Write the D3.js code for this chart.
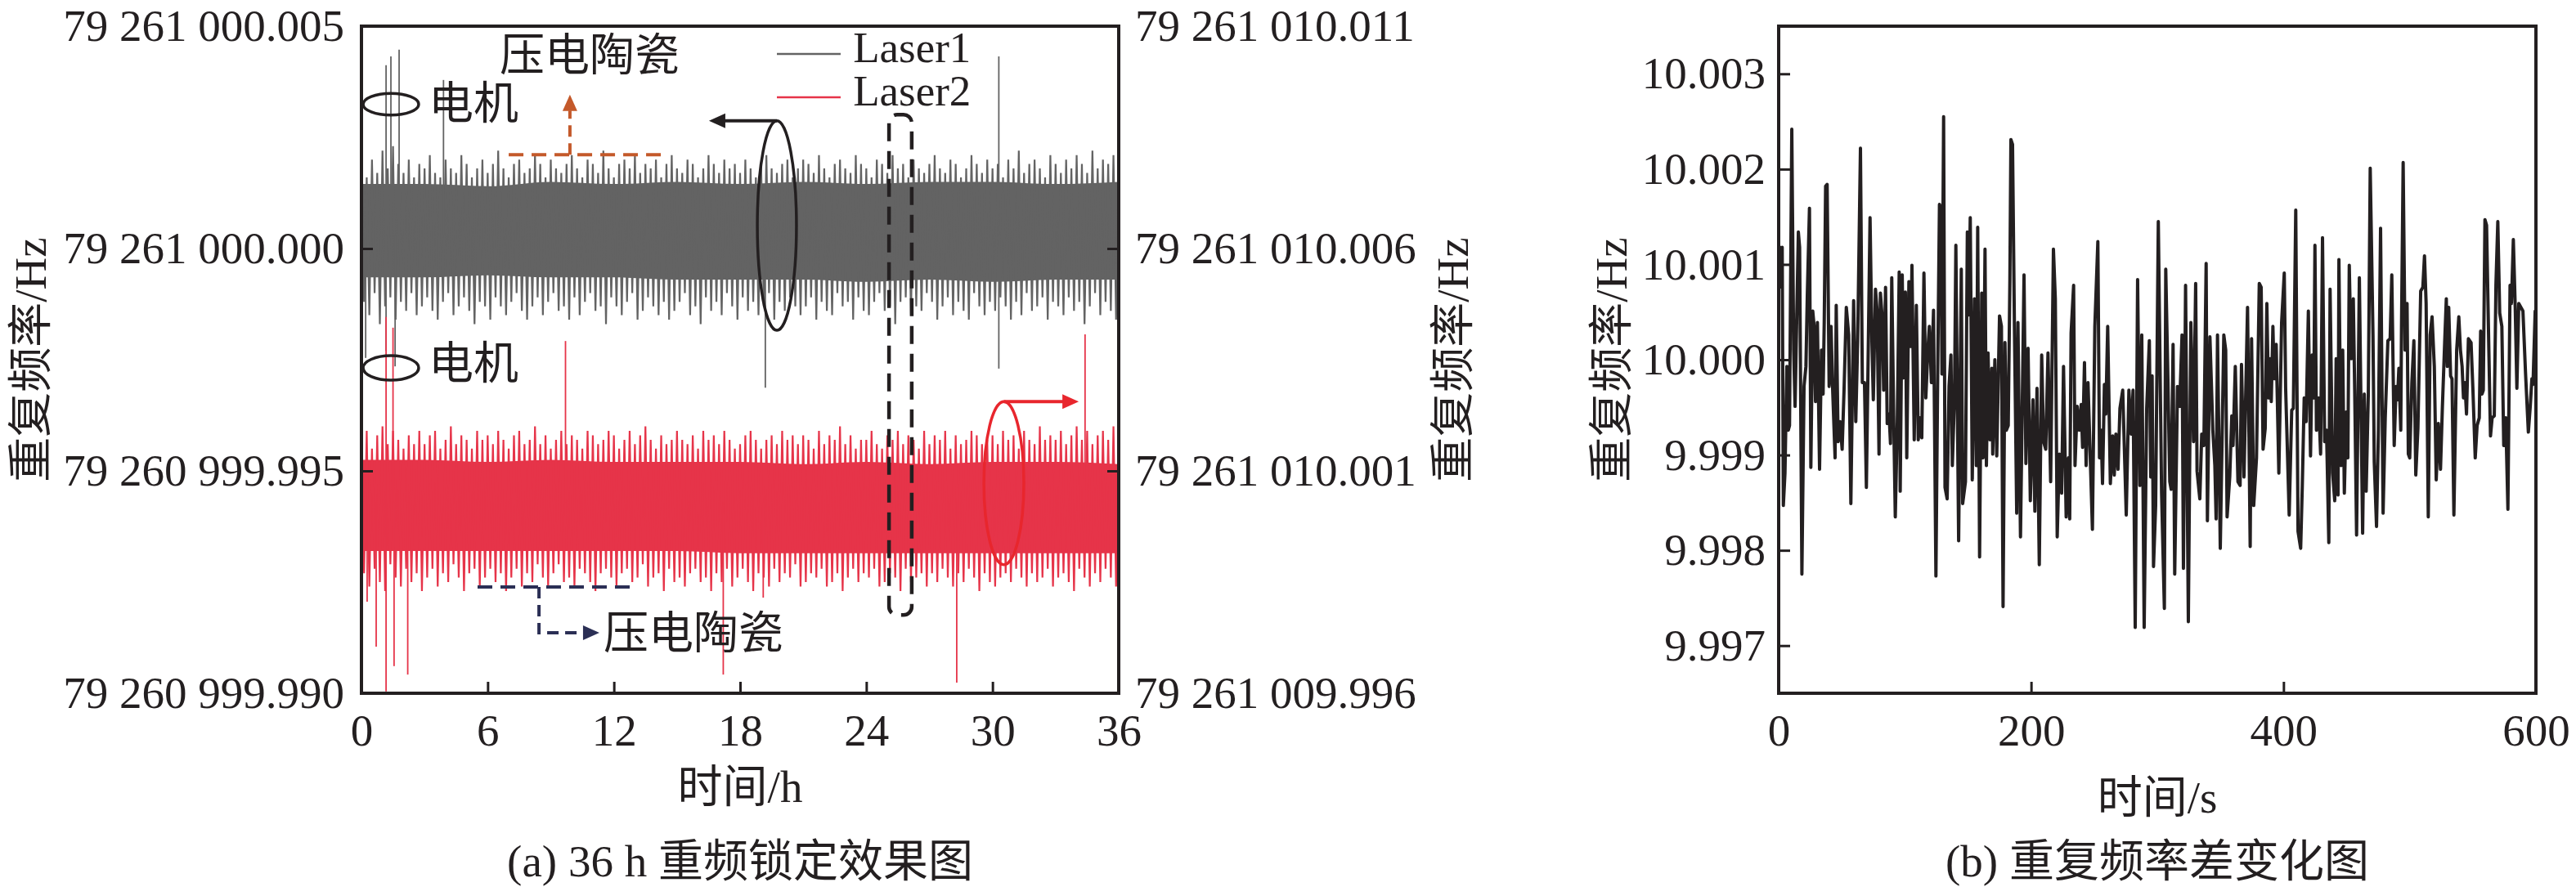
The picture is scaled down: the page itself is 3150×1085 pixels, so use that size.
<!DOCTYPE html>
<html>
<head>
<meta charset="utf-8">
<script src="https://cdn.jsdelivr.net/npm/d3@7"></script>
<style>
  body { margin: 0; background: #fff; }
</style>
</head>
<body>
<svg id="svg" width="3150" height="1085"></svg>
<script>
// ---------- panel (a): 36 h lock, values in mHz ----------
// Laser1 is read against the left axis (offset from 79 261 000.000 Hz),
// Laser2 against the right axis (offset from 79 261 010.000 Hz)
const hourTicks = [0, 6, 12, 18, 24, 30, 36]
const leftTickVals = [-10, -5, 0, 5]
const leftTickLabels = ['79 260 999.990', '79 260 999.995', '79 261 000.000', '79 261 000.005']
const rightTickVals = [-4, 1, 6, 11]
const rightTickLabels = ['79 261 009.996', '79 261 010.001', '79 261 010.006', '79 261 010.011']

// dense part of each trace, every 3 h
const coreHours = [0, 3, 6, 9, 12, 15, 18, 21, 24, 27, 30, 33, 36]
const l1CoreHi = [1.45, 1.45, 1.4, 1.5, 1.45, 1.5, 1.45, 1.5, 1.45, 1.5, 1.5, 1.45, 1.5]
const l1CoreLo = [-0.65, -0.65, -0.6, -0.65, -0.65, -0.7, -0.7, -0.7, -0.75, -0.7, -0.75, -0.7, -0.7]
const l2CoreHi = [1.25, 1.25, 1.2, 1.25, 1.2, 1.2, 1.2, 1.15, 1.2, 1.15, 1.2, 1.2, 1.15]
const l2CoreLo = [-0.8, -0.8, -0.8, -0.8, -0.8, -0.8, -0.85, -0.85, -0.85, -0.85, -0.85, -0.85, -0.85]

// outer excursions every 0.25 h (upper tip, then lower tip)
const bandStep = 0.25
const l1Hi = [
  1.9, 1.6, 2.0, 1.7, 2.2, 1.8, 2.3, 1.9, 1.7, 2.0, 1.6, 1.9,
  1.8, 2.1, 1.7, 1.6, 2.0, 1.8, 1.7, 2.1, 1.9, 1.6, 1.8, 2.0,
  1.7, 1.9, 2.2, 1.8, 1.6, 1.9, 2.0, 1.7, 1.8, 2.1, 1.9, 1.6,
  2.0, 1.8, 1.7, 1.9, 2.1, 1.8, 1.6, 2.0, 1.9, 1.7, 2.2, 1.8,
  1.6, 1.9, 2.0, 1.8, 2.1, 1.7, 1.9, 1.8, 2.0, 1.6, 1.9, 2.1,
  1.8, 1.7, 2.0, 1.9, 1.6, 1.8, 2.1, 1.9, 1.7, 2.0, 1.8, 1.9,
  1.7, 2.0, 1.8, 1.6, 1.9, 2.1, 1.8, 1.7, 1.9, 2.0, 1.6, 1.8,
  2.0, 1.9, 1.7, 2.1, 1.8, 1.6, 1.9, 2.0, 1.8, 1.7, 2.1, 1.9,
  1.8, 1.6, 2.0, 1.9, 1.7, 2.1, 1.8, 1.9, 1.6, 2.0, 1.8, 1.7,
  1.9, 2.1, 1.8, 1.7, 2.0, 1.9, 1.6, 1.8, 2.1, 1.9, 1.7, 2.0,
  1.8, 1.9, 1.6, 2.0, 1.8, 2.2, 1.7, 1.9, 2.0, 1.8, 1.6, 2.1,
  1.9, 1.7, 2.0, 1.8, 2.1, 1.9, 1.7, 2.2, 1.8, 2.0, 1.9, 2.1,
  1.9]
const l1Lo = [
  -1.2, -1.5, -1.0, -1.7, -1.3, -1.1, -1.6, -1.2, -1.4, -1.0, -1.5, -1.3,
  -1.1, -1.4, -1.6, -1.2, -1.0, -1.5, -1.3, -1.1, -1.4, -1.7, -1.2, -1.3,
  -1.6, -1.1, -1.3, -1.5, -1.2, -1.0, -1.4, -1.6, -1.3, -1.1, -1.5, -1.2,
  -1.0, -1.4, -1.3, -1.6, -1.1, -1.5, -1.2, -1.0, -1.4, -1.3, -1.7, -1.1,
  -1.3, -1.5, -1.2, -1.0, -1.6, -1.4, -1.1, -1.3, -1.5, -1.2, -1.6, -1.4,
  -1.2, -1.0, -1.5, -1.3, -1.7, -1.1, -1.4, -1.2, -1.5, -1.0, -1.3, -1.6,
  -1.1, -1.4, -1.2, -1.5, -1.3, -1.0, -1.6, -1.2, -1.4, -1.1, -1.3, -1.5,
  -1.3, -1.1, -1.6, -1.2, -1.4, -1.5, -1.0, -1.3, -1.2, -1.6, -1.1, -1.4,
  -1.5, -1.2, -1.0, -1.4, -1.3, -1.7, -1.2, -1.1, -1.5, -1.3, -1.4, -1.0,
  -1.2, -1.6, -1.3, -1.1, -1.5, -1.2, -1.4, -1.6, -1.0, -1.3, -1.5, -1.2,
  -1.4, -1.1, -1.3, -1.6, -1.2, -1.5, -1.0, -1.4, -1.3, -1.1, -1.6, -1.2,
  -1.3, -1.5, -1.1, -1.4, -1.2, -1.7, -1.3, -1.0, -1.5, -1.2, -1.4, -1.6,
  -1.3]
const l2Hi = [
  1.7, 1.9, 1.5, 1.8, 2.0, 1.6, 1.9, 1.7, 1.5, 1.8, 1.6, 1.9,
  1.6, 1.8, 1.9, 1.5, 1.7, 2.0, 1.6, 1.8, 1.7, 1.5, 1.9, 1.7,
  1.8, 1.6, 1.9, 1.7, 1.5, 1.8, 1.9, 1.6, 1.7, 2.0, 1.6, 1.8,
  1.5, 1.7, 1.9, 1.6, 1.8, 1.7, 1.5, 1.9, 1.8, 1.6, 1.7, 1.9,
  1.8, 1.5, 1.7, 1.9, 1.6, 1.8, 2.0, 1.7, 1.5, 1.8, 1.6, 1.7,
  1.9, 1.7, 1.6, 1.8, 1.5, 1.9, 1.7, 1.8, 1.6, 1.9, 1.7, 1.5,
  1.6, 1.8, 1.9, 1.7, 1.5, 1.7, 1.8, 1.6, 1.9, 1.7, 1.8, 1.6,
  1.8, 1.7, 1.5, 1.9, 1.6, 1.8, 1.7, 2.0, 1.6, 1.8, 1.5, 1.7,
  1.7, 1.9, 1.6, 1.5, 1.8, 1.7, 1.9, 1.6, 1.8, 1.7, 1.5, 1.9,
  1.6, 1.8, 1.7, 1.9, 1.5, 1.8, 1.6, 1.7, 1.9, 1.8, 1.6, 1.7,
  1.8, 1.6, 1.9, 1.7, 1.8, 1.5, 1.9, 1.7, 1.6, 2.0, 1.7, 1.8,
  1.7, 1.9, 1.6, 1.8, 2.0, 1.7, 1.9, 1.6, 1.8, 1.9, 1.7, 2.0,
  1.8]
const l2Lo = [
  -1.3, -1.6, -1.2, -1.5, -1.7, -1.1, -1.4, -1.6, -1.2, -1.5, -1.3, -1.7,
  -1.4, -1.2, -1.6, -1.3, -1.5, -1.1, -1.4, -1.7, -1.3, -1.2, -1.6, -1.4,
  -1.2, -1.5, -1.3, -1.7, -1.4, -1.2, -1.6, -1.3, -1.5, -1.1, -1.4, -1.6,
  -1.3, -1.1, -1.5, -1.4, -1.6, -1.2, -1.3, -1.5, -1.7, -1.3, -1.2, -1.4,
  -1.6, -1.3, -1.2, -1.5, -1.4, -1.1, -1.6, -1.4, -1.3, -1.7, -1.2, -1.5,
  -1.4, -1.6, -1.3, -1.2, -1.5, -1.4, -1.7, -1.3, -1.5, -1.2, -1.6, -1.4,
  -1.2, -1.5, -1.7, -1.3, -1.4, -1.6, -1.2, -1.5, -1.3, -1.4, -1.1, -1.6,
  -1.5, -1.3, -1.4, -1.2, -1.6, -1.5, -1.3, -1.7, -1.4, -1.2, -1.5, -1.3,
  -1.4, -1.2, -1.6, -1.5, -1.3, -1.4, -1.7, -1.2, -1.5, -1.4, -1.3, -1.6,
  -1.3, -1.5, -1.2, -1.4, -1.6, -1.3, -1.5, -1.2, -1.4, -1.7, -1.3, -1.5,
  -1.6, -1.4, -1.3, -1.5, -1.2, -1.4, -1.6, -1.3, -1.5, -1.4, -1.2, -1.6,
  -1.4, -1.3, -1.5, -1.7, -1.2, -1.4, -1.6, -1.3, -1.5, -1.2, -1.4, -1.6,
  -1.4]

// single large jumps [hour, mHz]
const l1Spikes = [[0.2, -2.46], [1.17, 4.12], [1.17, -2.3], [1.4, 4.32], [1.6, -2.65],
  [1.79, 4.47], [3.9, 3.79], [19.2, -3.13], [30.3, 4.32], [30.3, -2.7]]
const l2Spikes = [[0.27, -1.94], [0.7, -2.95], [1.17, 4.46], [1.17, -3.96], [1.5, 4.22],
  [1.55, -3.39], [2.2, -3.58], [9.7, 3.92], [17.2, -3.58], [19.1, -1.85], [28.3, -3.76], [34.4, 4.07]]

// ---------- panel (b): repetition-rate difference, [s, Hz] ----------
const secTicks = [0, 200, 400, 600]
const diffTicks = [9.997, 9.998, 9.999, 10.000, 10.001, 10.002, 10.003]
const diffSeries = [
  [0, 10.00080], [1.1, 10.00118], [2.2, 10.00076], [2.8, 10.00118], [3.7, 9.99847], [5.0, 9.99881],
  [6.5, 9.99993], [7.6, 9.99926], [8.6, 9.99931], [10.4, 10.00242], [11.9, 10.00010], [13.0, 9.99951],
  [15.6, 10.00134], [16.6, 10.00118], [18.4, 9.99775], [20.1, 9.99972], [21.6, 9.99993], [22.7, 10.00068],
  [24.4, 10.00159], [25.5, 9.99887], [27.0, 10.00051], [28.1, 10.00035], [29.2, 9.99956], [30.7, 10.00039],
  [32.4, 9.99885], [33.9, 10.00010], [35.2, 9.99964], [36.1, 10.00039], [37.2, 10.00182], [38.4, 10.00184],
  [40.0, 9.99972], [41.5, 10.00035], [42.8, 9.99968], [44.7, 9.99897], [45.6, 10.00057], [47.1, 9.99914],
  [48.6, 9.99935], [50.3, 9.99906], [51.8, 9.99968], [53.6, 10.00055], [55.5, 10.00026], [57.2, 9.99849],
  [59.4, 10.00062], [61.1, 9.99935], [62.6, 10.00020], [64.8, 10.00222], [66.3, 9.99976], [68.0, 9.99976],
  [69.5, 9.99866], [72.4, 10.00149], [73.9, 10.00018], [75.0, 9.99958], [76.7, 10.00074], [78.0, 10.00051],
  [79.5, 9.99901], [80.6, 10.00070], [82.1, 10.00043], [83.2, 9.99968], [84.7, 10.00076], [86.0, 9.99933],
  [87.5, 9.99943], [88.6, 9.99912], [89.6, 10.00086], [91.2, 9.99935], [92.4, 9.99835], [94.0, 9.99935],
  [95.5, 10.00092], [96.3, 9.99862], [97.9, 10.00089], [98.9, 9.99981], [100.4, 10.00071], [101.5, 9.99897],
  [103.2, 10.00082], [104.8, 10.00014], [105.6, 10.00099], [107.4, 9.99916], [109.1, 10.00057], [110.6, 9.99916],
  [111.9, 9.99939], [113.4, 9.99918], [115.1, 10.00091], [116.6, 9.99960], [118.2, 10.00010], [119.4, 10.00035],
  [121.0, 9.99976], [122.7, 10.00052], [124.6, 9.99773], [126.0, 9.99985], [127.4, 10.00163], [128.5, 10.00159],
  [129.4, 9.99985], [130.7, 10.00255], [131.8, 9.99866], [133.5, 9.99854], [135.0, 9.99972], [136.5, 10.00005],
  [137.6, 9.99889], [139.3, 9.99960], [140.4, 10.00120], [142.6, 9.99810], [144.7, 10.00095], [145.8, 9.99849],
  [148.0, 9.99872], [149.5, 10.00134], [150.6, 10.00047], [151.8, 10.00149], [153.4, 9.99874], [155.1, 10.00064],
  [156.6, 9.99889], [157.7, 10.00139], [159.2, 9.99793], [160.9, 10.00070], [162.0, 9.99897], [163.5, 10.00116],
  [164.6, 9.99889], [165.9, 10.00007], [167.4, 9.99916], [168.9, 9.99991], [169.6, 9.99901], [171.3, 10.00000],
  [172.8, 9.99899], [175.0, 10.00046], [176.5, 10.00035], [177.8, 9.99741], [179.3, 10.00018], [180.4, 9.99926],
  [181.9, 9.99931], [183.2, 10.00084], [184.0, 10.00231], [185.3, 10.00226], [186.8, 10.00035], [188.6, 9.99839],
  [189.6, 10.00039], [191.6, 9.99814], [194.4, 10.00089], [195.9, 9.99891], [197.6, 10.00012], [199.4, 9.99852],
  [201.5, 9.99958], [203.0, 9.99841], [204.7, 9.99970], [206.5, 9.99785], [208.4, 10.00005], [209.9, 9.99914],
  [211.6, 9.99906], [213.4, 10.00007], [215.5, 9.99872], [217.7, 10.00116], [219.2, 10.00064], [220.7, 9.99814],
  [222.4, 9.99901], [224.2, 9.99860], [225.7, 9.99993], [227.8, 9.99835], [229.6, 9.99897], [230.6, 9.99833],
  [231.7, 10.00028], [233.7, 10.00078], [234.8, 9.99889], [236.5, 9.99951], [238.2, 9.99926], [239.7, 9.99953],
  [240.8, 9.99908], [242.3, 9.99997], [243.6, 9.99889], [245.1, 9.99976], [248.6, 9.99822], [250.5, 10.00035],
  [252.9, 10.00124], [254.2, 9.99897], [255.5, 9.99926], [256.6, 9.99870], [258.1, 9.99974], [259.2, 9.99943],
  [260.7, 10.00035], [262.8, 9.99870], [264.6, 9.99920], [265.9, 9.99879], [267.2, 9.99922], [268.9, 9.99885],
  [270.4, 9.99949], [272.6, 9.99968], [275.4, 9.99837], [277.5, 9.99968], [279.3, 9.99922], [280.8, 9.99968],
  [282.5, 9.99719], [284.4, 10.00084], [286.2, 9.99868], [287.7, 10.00026], [289.6, 9.99719], [291.6, 9.99949],
  [293.7, 10.00020], [294.8, 9.99877], [295.9, 9.99983], [297.0, 9.99783], [298.7, 9.99847], [300.8, 10.00145],
  [303.4, 9.99860], [305.6, 9.99739], [306.7, 10.00095], [308.4, 9.99980], [309.9, 9.99872], [311.0, 9.99864],
  [312.5, 10.00016], [313.8, 9.99775], [316.0, 9.99972], [317.7, 9.99951], [319.6, 10.00026], [320.7, 9.99781],
  [322.4, 10.00078], [324.6, 9.99725], [326.6, 10.00039], [328.7, 9.99914], [330.4, 10.00080], [331.5, 9.99883],
  [333.7, 9.99854], [335.2, 9.99922], [336.9, 9.99910], [338.7, 10.00101], [339.7, 9.99831], [341.7, 10.00024],
  [344.0, 9.99926], [345.6, 9.99889], [346.6, 9.99833], [347.7, 10.00026], [349.9, 9.99802], [352.7, 10.00026],
  [354.2, 10.00010], [355.3, 9.99835], [357.4, 9.99877], [359.0, 9.99941], [360.0, 9.99910], [361.8, 9.99993],
  [363.9, 9.99872], [365.6, 9.99868], [366.7, 9.99995], [368.7, 9.99877], [371.5, 10.00055], [373.6, 9.99804],
  [374.7, 10.00022], [376.4, 9.99847], [378.6, 9.99897], [380.8, 10.00080], [382.3, 10.00076], [383.8, 9.99906],
  [385.5, 9.99928], [386.8, 10.00059], [388.1, 9.99960], [389.4, 10.00001], [390.3, 9.99956], [391.6, 10.00035],
  [392.6, 9.99980], [394.2, 10.00016], [396.3, 9.99881], [398.5, 10.00039], [400.6, 10.00091], [401.7, 9.99970],
  [404.5, 9.99837], [406.5, 9.99947], [407.8, 9.99949], [409.7, 10.00157], [411.5, 9.99820], [413.6, 9.99802],
  [414.9, 9.99868], [416.4, 9.99960], [417.9, 9.99935], [419.7, 10.00051], [421.4, 9.99899], [422.7, 10.00005],
  [424.0, 9.99960], [424.9, 10.00120], [426.1, 9.99926], [427.7, 9.99960], [429.4, 9.99901], [430.9, 10.00128],
  [432.6, 9.99914], [434.1, 9.99926], [435.9, 9.99808], [436.9, 10.00074], [438.9, 9.99881], [440.6, 9.99852],
  [441.7, 10.00001], [443.2, 9.99858], [443.9, 10.00105], [445.6, 9.99889], [446.9, 10.00010], [448.2, 9.99860],
  [449.7, 9.99945], [451.0, 9.99897], [452.1, 10.00099], [453.6, 10.00001], [455.3, 10.00064], [456.4, 9.99968],
  [457.9, 9.99816], [460.1, 10.00086], [461.1, 9.99980], [462.7, 9.99818], [464.0, 9.99964], [465.5, 9.99862],
  [467.2, 9.99964], [468.7, 10.00201], [470.9, 10.00026], [471.9, 9.99893], [473.7, 9.99825], [475.2, 9.99926],
  [476.9, 10.00138], [478.9, 9.99839], [480.6, 9.99939], [482.7, 10.00020], [484.5, 10.00022], [485.8, 10.00089],
  [487.7, 9.99910], [489.2, 9.99972], [490.3, 9.99958], [491.4, 9.99991], [492.9, 9.99926], [493.5, 10.00035],
  [494.8, 10.00207], [496.3, 10.00010], [497.9, 10.00059], [498.9, 9.99901], [500.0, 9.99897], [501.7, 9.99976],
  [503.3, 10.00020], [504.8, 9.99879], [506.5, 9.99928], [508.7, 10.00072], [510.4, 10.00076], [511.7, 10.00109],
  [513.0, 10.00059], [514.7, 9.99835], [516.2, 10.00026], [517.7, 10.00045], [519.5, 9.99993], [521.0, 9.99874],
  [522.7, 9.99933], [524.4, 9.99885], [525.9, 9.99951], [527.7, 10.00018], [529.0, 10.00064], [529.8, 9.99993],
  [530.9, 10.00055], [532.4, 9.99983], [533.5, 9.99980], [535.0, 9.99837], [537.2, 10.00010], [538.9, 10.00045],
  [540.2, 10.00010], [541.5, 9.99993], [542.6, 9.99960], [543.7, 9.99976], [545.0, 9.99943], [546.5, 10.00022],
  [548.6, 10.00018], [550.1, 9.99968], [551.9, 9.99897], [553.4, 9.99931], [555.1, 9.99939], [556.2, 10.00030],
  [557.3, 9.99964], [558.3, 9.99968], [559.6, 10.00147], [560.9, 10.00141], [562.7, 10.00010], [564.0, 9.99920],
  [565.3, 9.99939], [567.0, 9.99941], [568.3, 10.00078], [569.8, 10.00145], [571.3, 10.00049], [573.0, 10.00035],
  [574.5, 9.99910], [576.1, 9.99939], [577.8, 9.99843], [579.5, 10.00078], [580.6, 10.00059], [582.1, 10.00126],
  [583.6, 10.00055], [584.9, 9.99970], [586.4, 10.00059], [588.1, 10.00055], [589.7, 10.00051], [591.8, 9.99985],
  [594.0, 9.99924], [595.5, 9.99951], [596.8, 9.99980], [597.7, 9.99974], [599.4, 10.00051], [600, 10.00026]
]

// ---------- drawing ----------
const svg = d3.select('#svg')
const serif = '"Liberation Serif", "Noto Sans CJK SC", serif'
const ink = '#231f20'
const gray = '#636363'
const red = '#e63449'

const xH = d3.scaleLinear().domain([0, 36]).range([442, 1368])
const yL = d3.scaleLinear().domain([-10, 5]).range([848, 32])
const yR = d3.scaleLinear().domain([-4, 11]).range([848, 32])
const xS = d3.scaleLinear().domain([0, 600]).range([2175, 3101])
const yS = d3.scaleLinear().domain([9.9965, 10.0035]).range([848, 32])

function frameOf(x, y) {
  return { x: x.range()[0], y: y.range()[1], w: x.range()[1] - x.range()[0], h: y.range()[0] - y.range()[1] }
}
const fa = frameOf(xH, yL)
const fb = frameOf(xS, yS)

const defs = svg.append('defs')
defs.append('clipPath').attr('id', 'clipA').append('rect')
  .attr('x', fa.x).attr('y', fa.y).attr('width', fa.w).attr('height', fa.h)
defs.append('clipPath').attr('id', 'clipB').append('rect')
  .attr('x', fb.x).attr('y', fb.y).attr('width', fb.w).attr('height', fb.h)

function drawTrace(y, coreHi, coreLo, hi, lo, spikes, color) {
  const g = svg.append('g').attr('clip-path', 'url(#clipA)')
  g.append('path')
    .datum(coreHours.map((h, i) => [h, coreHi[i], coreLo[i]]))
    .attr('d', d3.area().x(d => xH(d[0])).y0(d => y(d[2])).y1(d => y(d[1])).curve(d3.curveMonotoneX))
    .attr('fill', color)
  const pts = hi.flatMap((v, i) => [[i * bandStep, v], [i * bandStep + bandStep / 2, lo[i]]])
  g.append('path')
    .datum(pts)
    .attr('d', d3.line().x(d => xH(d[0])).y(d => y(d[1])))
    .attr('fill', 'none')
    .attr('stroke', color)
    .attr('stroke-width', 2.2)
  g.selectAll(null)
    .data(spikes)
    .enter()
    .append('line')
    .attr('x1', d => xH(d[0]))
    .attr('x2', d => xH(d[0]))
    .attr('y1', y(0.3))
    .attr('y2', d => y(d[1]))
    .attr('stroke', color)
    .attr('stroke-width', 1.8)
}
drawTrace(yL, l1CoreHi, l1CoreLo, l1Hi, l1Lo, l1Spikes, gray)
drawTrace(yR, l2CoreHi, l2CoreLo, l2Hi, l2Lo, l2Spikes, red)

svg.append('g').attr('clip-path', 'url(#clipB)')
  .append('path')
  .datum(diffSeries)
  .attr('d', d3.line().x(d => xS(d[0])).y(d => yS(d[1])))
  .attr('fill', 'none')
  .attr('stroke', ink)
  .attr('stroke-width', 4)
  .attr('stroke-linejoin', 'round')

// axes
function styleAxis(g) {
  g.attr('font-size', 55).attr('font-family', serif)
  g.select('.domain').remove()
  g.selectAll('.tick line').attr('stroke', ink).attr('stroke-width', 3)
  g.selectAll('.tick text').attr('fill', ink)
}
svg.append('g').attr('transform', `translate(0,${fa.y + fa.h})`)
  .call(d3.axisBottom(xH).tickValues(hourTicks).tickSize(-14).tickPadding(25))
  .call(styleAxis)
svg.append('g').attr('transform', `translate(${fa.x},0)`)
  .call(d3.axisLeft(yL).tickValues(leftTickVals).tickFormat((d, i) => leftTickLabels[i]).tickSize(-14).tickPadding(21))
  .call(styleAxis)
svg.append('g').attr('transform', `translate(${fa.x + fa.w},0)`)
  .call(d3.axisRight(yR).tickValues(rightTickVals).tickFormat((d, i) => rightTickLabels[i]).tickSize(-14).tickPadding(20))
  .call(styleAxis)
svg.append('g').attr('transform', `translate(0,${fb.y + fb.h})`)
  .call(d3.axisBottom(xS).tickValues(secTicks).tickSize(-14).tickPadding(25))
  .call(styleAxis)
svg.append('g').attr('transform', `translate(${fb.x},0)`)
  .call(d3.axisLeft(yS).tickValues(diffTicks).tickFormat(d3.format('.3f')).tickSize(-14).tickPadding(16))
  .call(styleAxis)

;[fa, fb].forEach(f => {
  svg.append('rect').attr('x', f.x).attr('y', f.y).attr('width', f.w).attr('height', f.h)
    .attr('fill', 'none').attr('stroke', ink).attr('stroke-width', 4)
})

// titles
function label(txt, x, y, opts = {}) {
  const t = svg.append('text')
    .attr('x', x).attr('y', y)
    .attr('font-family', serif)
    .attr('font-size', opts.size || 55)
    .attr('fill', opts.color || ink)
    .attr('text-anchor', opts.anchor || 'middle')
    .attr('dominant-baseline', opts.baseline || 'central')
    .text(txt)
  if (opts.rotate) t.attr('transform', `rotate(-90,${x},${y})`)
  return t
}
const midA = fa.x + fa.w / 2
const midB = fb.x + fb.w / 2
const midY = fa.y + fa.h / 2
label('重复频率/Hz', 37, midY, { rotate: true })
label('重复频率/Hz', 1776, midY, { rotate: true })
label('重复频率/Hz', 1970, midY, { rotate: true })
label('时间/h', midA, 962)
label('时间/s', midB, 975)
label('(a) 36 h 重频锁定效果图', midA, 1053)
label('(b) 重复频率差变化图', midB, 1053)

// legend
const legend = [{ name: 'Laser1', color: gray, y: 4.375, base: 4.19 }, { name: 'Laser2', color: red, y: 3.40, base: 3.22 }]
legend.forEach(d => {
  svg.append('line').attr('x1', xH(19.75)).attr('x2', xH(22.78)).attr('y1', yL(d.y)).attr('y2', yL(d.y))
    .attr('stroke', d.color).attr('stroke-width', 2.5)
  label(d.name, xH(23.37), yL(d.base), { anchor: 'start', baseline: 'alphabetic', size: 53 })
})

// annotations (hours / mHz)
const ann = svg.append('g')
function arrowHead(tip, from, color) {
  const dx = tip[0] - from[0], dy = tip[1] - from[1]
  const len = Math.hypot(dx, dy), ux = dx / len, uy = dy / len
  const bx = tip[0] - ux * 20, by = tip[1] - uy * 20
  ann.append('path')
    .attr('d', `M${tip[0]},${tip[1]}L${bx - uy * 9},${by + ux * 9}L${bx + uy * 9},${by - ux * 9}Z`)
    .attr('fill', color)
}
function ring(h0, h1, v0, v1, y, color) {
  ann.append('ellipse')
    .attr('cx', (xH(h0) + xH(h1)) / 2).attr('cy', (y(v0) + y(v1)) / 2)
    .attr('rx', (xH(h1) - xH(h0)) / 2).attr('ry', Math.abs(y(v0) - y(v1)) / 2)
    .attr('fill', 'none').attr('stroke', color).attr('stroke-width', 3.5)
}
function poly(points, y, color, dash) {
  ann.append('path')
    .datum(points)
    .attr('d', d3.line().x(d => xH(d[0])).y(d => y(d[1])))
    .attr('fill', 'none').attr('stroke', color).attr('stroke-width', 4)
    .attr('stroke-dasharray', dash || null)
}

const arrowRed = '#e8262d'
const orange = '#c4592a'
const navy = '#2b2f55'

ring(18.82, 20.68, -1.84, 2.87, yL, ink)
poly([[19.75, 2.87], [17.1, 2.87]], yL, ink)
arrowHead([xH(16.52), yL(2.87)], [xH(19.75), yL(2.87)], ink)

ring(29.59, 31.49, -1.11, 2.56, yR, arrowRed)
poly([[30.54, 2.56], [33.5, 2.56]], yR, arrowRed)
arrowHead([xH(34.1), yR(2.56)], [xH(30.54), yR(2.56)], arrowRed)

ring(0.08, 2.72, 3.0, 3.49, yL, ink)
ring(0.08, 2.72, -2.96, -2.41, yL, ink)
label('电机', xH(3.19), yL(3.27), { anchor: 'start' })
label('电机', xH(3.19), yL(-2.59), { anchor: 'start' })

poly([[7.0, 2.11], [14.31, 2.11]], yL, orange, '18 10')
poly([[9.91, 2.11], [9.91, 3.1]], yL, orange, '14 8')
arrowHead([xH(9.91), yL(3.46)], [xH(9.91), yL(2.11)], orange)
label('压电陶瓷', xH(6.57), yL(4.34), { anchor: 'start' })

poly([[5.52, -7.61], [12.87, -7.61]], yL, navy, '18 10')
poly([[8.44, -7.61], [8.44, -8.64], [10.7, -8.64]], yL, navy, '14 8')
arrowHead([xH(11.31), yL(-8.64)], [xH(8.44), yL(-8.64)], navy)
label('压电陶瓷', xH(11.51), yL(-8.64), { anchor: 'start' })

// dashed window around 25-26 h
ann.append('rect')
  .attr('x', xH(25.08)).attr('y', yL(3.01))
  .attr('width', xH(26.16) - xH(25.08)).attr('height', yL(-8.24) - yL(3.01))
  .attr('rx', 10)
  .attr('fill', 'none').attr('stroke', ink).attr('stroke-width', 4.5)
  .attr('stroke-dasharray', '22 12')
</script>
</body>
</html>
